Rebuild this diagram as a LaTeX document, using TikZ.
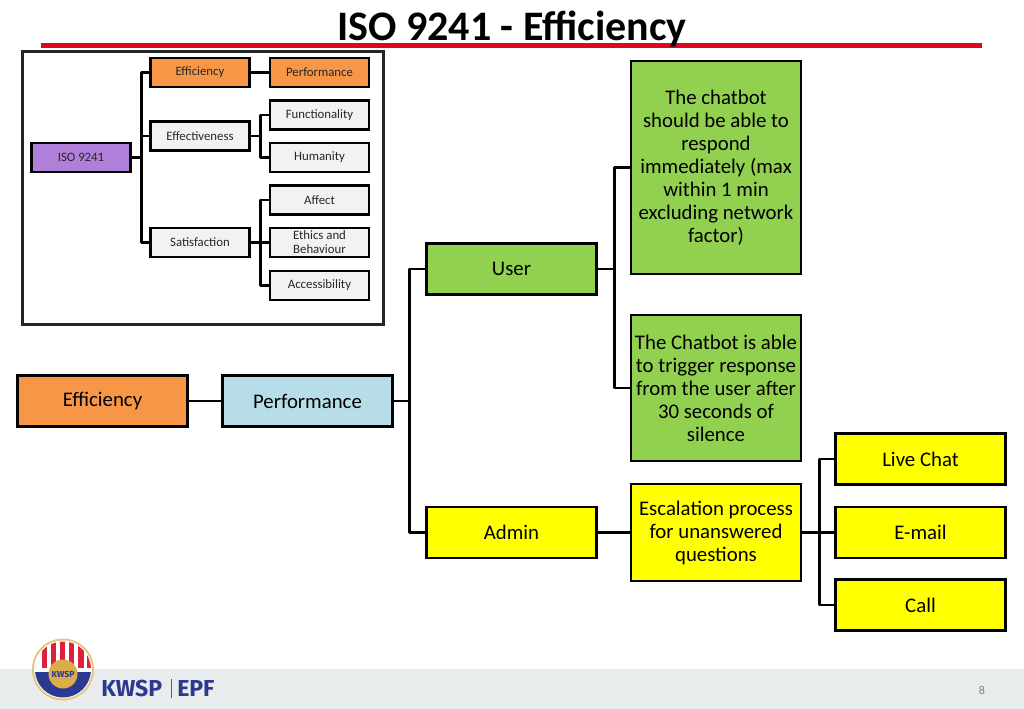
\documentclass[tikz,border=0pt]{standalone}
\usepackage{fontspec}
\setmainfont{Carlito}
\newfontfamily\logofont{Fira Sans}
\pgfdeclarelayer{background}
\pgfsetlayers{background,main}
\definecolor{redline}{HTML}{E2051F}
\definecolor{orangebox}{HTML}{F79646}
\definecolor{purplebox}{HTML}{B07FD9}
\definecolor{greybox}{HTML}{F2F2F2}
\definecolor{bluebox}{HTML}{B7DEE8}
\definecolor{greenbox}{HTML}{92D050}
\definecolor{yellowbox}{HTML}{FFFF00}
\definecolor{footband}{HTML}{E9ECEC}
\definecolor{epfblue}{HTML}{2B3990}
\definecolor{epfred}{HTML}{E0203A}
\definecolor{epfgold}{HTML}{D9AE4A}
\tikzset{
  smallbox/.style={draw=black,line width=1.9pt,minimum width=74.5pt,minimum height=22pt,
    inner sep=0pt,align=center,text=black!85,font=\fontsize{9.6}{10.4}\selectfont},
  bigbox/.style={draw=black,line width=1.9pt,minimum width=127.5pt,minimum height=38.5pt,
    inner sep=0pt,align=center,font=\fontsize{15.6}{17.25}\selectfont},
  wire/.style={draw=black,line width=2.1pt,line join=round},
  thinwire/.style={draw=black,line width=1.9pt,line join=round},
}
\newcommand{\Block}[4]% pos, name, style, text
{\node[#3] (#2) at (#1) {#4};
}
\newcommand{\Link}[3]% from, to, style
{ \begin{pgfonlayer}{background}
    \draw[#3] (#1.east) -- (#2.west);
  \end{pgfonlayer}
}
\newcommand{\Fork}[4]% from, offset, to, style
{ \begin{pgfonlayer}{background}
    \draw[#4] (#1.east) -- ++(#2,0) |- (#3.west);
  \end{pgfonlayer}
}
\begin{document}
\begin{tikzpicture}[x=0.75pt,y=-0.75pt]
  \useasboundingbox (0,0) rectangle (1024,709);
  \begin{pgfonlayer}{background}
    \fill[white] (0,0) rectangle (1024,709);
    \fill[footband] (0,669) rectangle (1024,709);
  \end{pgfonlayer}
  % title
  \draw[redline,line width=3.4pt] (41,45.5) -- (982,45.5);
  \node[font=\fontsize{31.5}{33}\selectfont\bfseries,text=black] (title) at (512,29) {ISO 9241 - Efficiency};
  % small chart
  \draw[black!85,line width=2.6pt] (22.5,51.5) rectangle (383.5,324.5);
  \Block{81,157.5}{iso}{smallbox,fill=purplebox}{ISO 9241}
  \Block{200,72.5}{efficiency}{smallbox,fill=orangebox}{Efficiency}
  \Block{319.5,72.5}{performance}{smallbox,fill=orangebox}{Performance}
  \Block{200,136}{effectiveness}{smallbox,fill=greybox}{Effectiveness}
  \Block{319.5,115}{functionality}{smallbox,fill=greybox}{Functionality}
  \Block{319.5,157.5}{humanity}{smallbox,fill=greybox}{Humanity}
  \Block{200,242.5}{satisfaction}{smallbox,fill=greybox}{Satisfaction}
  \Block{319.5,200}{affect}{smallbox,fill=greybox}{Affect}
  \Block{319.5,242.5}{ethics}{smallbox,fill=greybox}{Ethics and\\Behaviour}
  \Block{319.5,285.5}{accessibility}{smallbox,fill=greybox}{Accessibility}
  \Fork{iso}{9.5}{efficiency}{thinwire}
  \Fork{iso}{9.5}{effectiveness}{thinwire}
  \Fork{iso}{9.5}{satisfaction}{thinwire}
  \Link{efficiency}{performance}{thinwire}
  \Fork{effectiveness}{9.5}{functionality}{thinwire}
  \Fork{effectiveness}{9.5}{humanity}{thinwire}
  \Fork{satisfaction}{9.5}{affect}{thinwire}
  \Fork{satisfaction}{9.5}{ethics}{thinwire}
  \Fork{satisfaction}{9.5}{accessibility}{thinwire}
  % main chart
  \Block{102.5,401}{efficiencyB}{bigbox,fill=orangebox}{Efficiency}
  \Block{307.5,401}{performanceB}{bigbox,fill=bluebox}{Performance}
  \Block{511.5,269}{user}{bigbox,fill=greenbox}{User}
  \Block{511.5,532.5}{admin}{bigbox,fill=yellowbox}{Admin}
  \Block{716,167.5}{respond}{bigbox,fill=greenbox,minimum height=160pt}{The chatbot\\should be able to\\respond\\immediately (max\\within 1 min\\excluding network\\factor)}
  \Block{716,388}{trigger}{bigbox,fill=greenbox,minimum height=109.5pt}{The Chatbot is able\\to trigger response\\from the user after\\30 seconds of\\silence}
  \Block{716,532.5}{escalation}{bigbox,fill=yellowbox,minimum height=73pt}{Escalation process\\for unanswered\\questions}
  \Block{920.5,459}{chat}{bigbox,fill=yellowbox}{Live Chat}
  \Block{920.5,532.5}{email}{bigbox,fill=yellowbox}{E-mail}
  \Block{920.5,605}{call}{bigbox,fill=yellowbox}{Call}
  \Link{efficiencyB}{performanceB}{wire}
  \Fork{performanceB}{16}{user}{wire}
  \Fork{performanceB}{16}{admin}{wire}
  \Fork{user}{17}{respond}{wire}
  \Fork{user}{17}{trigger}{wire}
  \Link{admin}{escalation}{wire}
  \Fork{escalation}{17}{chat}{wire}
  \Fork{escalation}{17}{email}{wire}
  \Fork{escalation}{17}{call}{wire}
  % logo and footer
  \fill[epfgold!70!white] (63,669.5) circle (31);
  \fill[white] (63,669.5) circle (29);
  \begin{scope}
    \clip (63,669.5) circle (28);
    \foreach \i in {0,...,5}
      \fill[epfred] (41.5+\i*9.1,639) rectangle ++(5.6,29);
    \fill[epfblue] (33,672) rectangle (93,699);
  \end{scope}
  \fill[epfgold] (63,674) circle (14.5);
  \node[font=\logofont\bfseries\fontsize{6.5}{7}\selectfont,text=epfblue] (seal) at (63,674) {KWSP};
  \node[anchor=west,inner sep=0pt,font=\logofont\bfseries\fontsize{17.3}{19}\selectfont,text=epfblue] (kwsp) at (101,688.5) {KWSP};
  \draw[epfred,line width=0.7pt] (171,679) -- (171,698);
  \node[anchor=west,inner sep=0pt,font=\logofont\bfseries\fontsize{17.3}{19}\selectfont,text=epfblue] (epf) at (177,688.5) {EPF};
  \node[font=\fontsize{9}{10}\selectfont,text=black!50] (page) at (982,690) {8};
\end{tikzpicture}
\end{document}
